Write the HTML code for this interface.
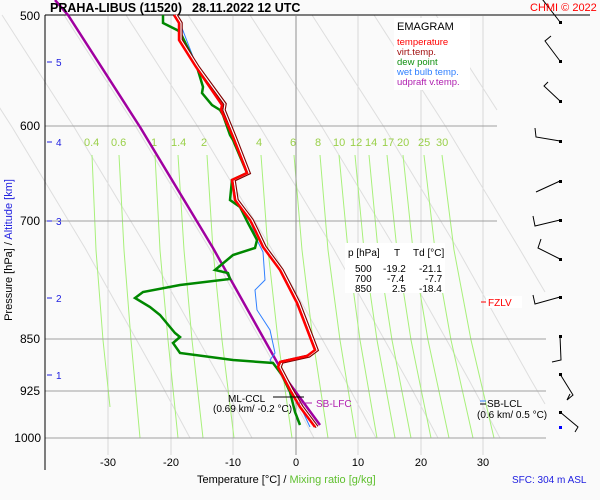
<!DOCTYPE html>
<html><head><meta charset="utf-8"><style>
html,body{margin:0;padding:0;background:#fafafa;}
svg{display:block;font-family:"Liberation Sans",sans-serif;}
</style></head><body>
<svg width="600" height="500" viewBox="0 0 600 500" xmlns="http://www.w3.org/2000/svg">
<rect width="600" height="500" fill="#fafafa"/>
<g stroke="#d8d8d8" stroke-width="1">
<line x1="108" y1="16" x2="108" y2="455"/>
<line x1="171" y1="16" x2="171" y2="455"/>
<line x1="233" y1="16" x2="233" y2="455"/>
<line x1="358" y1="16" x2="358" y2="455"/>
<line x1="421" y1="16" x2="421" y2="455"/>
<line x1="483" y1="16" x2="483" y2="455"/>
</g>
<g stroke="#dedede" stroke-width="1" fill="none">
<polyline points="-60,15 12,127 85,248 159,380 190,438"/>
<polyline points="2,15 74,127 147,248 221,380 252,438"/>
<polyline points="64,15 136,127 209,248 283,380 314,438"/>
<polyline points="126,15 198,127 271,248 345,380 376,438"/>
<polyline points="188,15 260,127 333,248 407,380 438,438"/>
<polyline points="250,15 322,127 395,248 469,380 500,438"/>
<polyline points="312,15 384,127 457,248 531,380 545,404"/>
<polyline points="374,15 446,127 519,248 545,292"/>
<polyline points="436,15 497,110"/>
</g>
<g stroke="#a8f07a" stroke-width="1" fill="none">
<polyline points="92,155 96,250 103,340 110,407"/>
<polyline points="119,155 124,250 131,340 140,438"/>
<polyline points="155,155 160,250 168,340 178,438"/>
<polyline points="178,155 184,250 192,340 203,438"/>
<polyline points="207,155 213,250 222,340 234,438"/>
<polyline points="261,155 268,250 278,340 292,438"/>
<polyline points="294,155 302,250 313,340 328,438"/>
<polyline points="320,155 328,250 340,340 356,438"/>
<polyline points="339,155 348,250 360,340 377,438"/>
<polyline points="355,155 364,250 377,340 395,438"/>
<polyline points="369,155 378,250 392,340 411,438"/>
<polyline points="387,155 397,250 411,340 431,438"/>
<polyline points="403,155 413,250 428,340 449,438"/>
<polyline points="424,155 435,250 451,340 473,438"/>
<polyline points="442,155 454,250 471,340 494,438"/>
</g>
<g fill="#9ad04a" font-size="11">
<text x="84" y="146">0.4</text><text x="111" y="146">0.6</text><text x="151" y="146">1</text>
<text x="171" y="146">1.4</text><text x="201" y="146">2</text><text x="256" y="146">4</text>
<text x="290" y="146">6</text><text x="315" y="146">8</text><text x="333" y="146">10</text>
<text x="350" y="146">12</text><text x="365" y="146">14</text><text x="382" y="146">17</text>
<text x="397" y="146">20</text><text x="418" y="146">25</text><text x="436" y="146">30</text>
</g>
<g stroke="#a0a0a0" stroke-width="1">
<line x1="45" y1="126" x2="497" y2="126"/>
<line x1="45" y1="221" x2="497" y2="221"/>
<line x1="45" y1="339" x2="546" y2="339"/>
<line x1="45" y1="391" x2="546" y2="391"/>
<line x1="45" y1="438" x2="546" y2="438"/>
<line x1="296" y1="16" x2="296" y2="455" stroke="#909090"/>
</g>
<line x1="45" y1="15" x2="590" y2="15" stroke="#000"/>
<line x1="45" y1="15" x2="45" y2="470" stroke="#000"/>
<rect x="394" y="18" width="76" height="72" fill="#fff"/>
<text x="397" y="30" font-size="11">EMAGRAM</text>
<g font-size="9.5">
<text x="397" y="45" fill="#ff0000">temperature</text>
<text x="397" y="55" fill="#a01010">virt.temp.</text>
<text x="397" y="65" fill="#109010">dew point</text>
<text x="397" y="75" fill="#3080ff">wet bulb temp.</text>
<text x="397" y="85" fill="#b020b0">udpraft v.temp.</text>
</g>
<rect x="345" y="243" width="100" height="50" fill="#fff"/>
<g font-size="10">
<text x="348" y="256">p [hPa]</text><text x="394" y="256">T</text><text x="413" y="256">Td [°C]</text>
<text x="355" y="272">500</text><text x="383" y="272">-19.2</text><text x="419" y="272">-21.1</text>
<text x="355" y="282">700</text><text x="387" y="282">-7.4</text><text x="425" y="282">-7.7</text>
<text x="355" y="292">850</text><text x="392" y="292">2.5</text><text x="419" y="292">-18.4</text>
</g>
<polyline fill="none" stroke="#a000a0" stroke-width="2.5" points="55,0 68,15 140,127 213,248 287,380 320,425"/>
<polyline fill="none" stroke="#3080ff" stroke-width="1" points="176,15 180,23 197,67 223,105 233,137 247,173 233,180 235,200 250,220 257,240 263,252 265,280 255,290 257,310 270,330 275,353 270,360 280,373 292,395 302,410 310,427"/>
<polyline fill="none" stroke="#008800" stroke-width="2.5" points="163,15 163,23 177,30 180,32 197,67 203,87 202,93 212,105 220,110 223,115 230,135 233,140 247,173 232,180 230,200 240,207 248,223 257,240 255,248 233,255 215,270 228,273 230,279 180,285 143,292 135,298 150,307 160,315 175,333 180,337 173,343 180,353 233,360 273,363 282,375 290,392 292,400 295,412 300,425"/>
<polyline fill="none" stroke="#800000" stroke-width="3.5" points="176,15 181,23 181,40 198,67 225,104 224,110 235,137 249,173 234,180 237,200 252,220 257,230 265,247 282,270 299,303 312,337 317,350 309,356 282,362 280,367 292,390 302,407 317,427"/>
<polyline fill="none" stroke="#fff" stroke-width="1.2" points="176,15 181,23 181,40 198,67 225,104 224,110 235,137 249,173 234,180 237,200 252,220 257,230 265,247 282,270 299,303 312,337 317,350 309,356 282,362 280,367 292,390 302,407 317,427"/>
<polyline fill="none" stroke="#ff0000" stroke-width="2.5" points="174,15 179,23 179,40 196,67 222,105 221,110 233,137 247,173 232,180 235,200 250,220 255,230 263,247 280,270 297,303 310,337 315,350 307,356 280,362 278,367 290,390 300,407 315,427"/>
<line x1="273" y1="397" x2="304" y2="397" stroke="#000"/>
<text x="228" y="402" font-size="10">ML-CCL</text>
<text x="213" y="412" font-size="10">(0.69 km/ -0.2 °C)</text>
<line x1="298" y1="403" x2="312" y2="403" stroke="#b020b0"/>
<text x="316" y="407" font-size="10" fill="#b020b0">SB-LFC</text>
<line x1="480" y1="401" x2="486" y2="401" stroke="#3080ff"/>
<line x1="480" y1="404" x2="486" y2="404" stroke="#000"/>
<text x="487" y="407" font-size="10">SB-LCL</text>
<text x="477" y="418" font-size="10">(0.6 km/ 0.5 °C)</text>
<rect x="486" y="296" width="36" height="12" fill="#fff"/>
<line x1="481" y1="302" x2="486" y2="302" stroke="#ff0000"/>
<text x="488" y="306" font-size="10" fill="#ff0000">FZLV</text>
<g stroke="#000" stroke-width="1" fill="none">
<polyline points="539,-5 560,22"/>
<polyline points="551,36 545,41 560,61"/>
<polyline points="548,82 544,86 560,101"/>
<polyline points="535,128 536,137 560,141"/>
<polyline points="536,192 560,181"/>
<polyline points="533,216 535,226 560,220"/>
<polyline points="541,239 538,248 560,259"/>
<polyline points="533,295 535,304 560,297"/>
<polyline points="560,336 561,360 552,362"/>
<polyline points="560,374 573,395 567,400 570,394"/>
<polyline points="560,412 578,427 575,432"/>
</g>
<g fill="#000">
<rect x="559" y="21" width="3" height="3"/><rect x="559" y="60" width="3" height="3"/>
<rect x="559" y="100" width="3" height="3"/><rect x="559" y="140" width="3" height="3"/>
<rect x="559" y="180" width="3" height="3"/><rect x="559" y="219" width="3" height="3"/>
<rect x="559" y="258" width="3" height="3"/><rect x="559" y="296" width="3" height="3"/>
<rect x="559" y="335" width="3" height="3"/><rect x="559" y="373" width="3" height="3"/>
<rect x="559" y="411" width="3" height="3"/>
</g>
<rect x="559" y="426" width="3" height="3" fill="#0000ff"/>
<text x="50" y="12" font-size="12.5" font-weight="bold">PRAHA-LIBUS (11520)</text>
<text x="192" y="12" font-size="12.5" font-weight="bold">28.11.2022 12 UTC</text>
<text x="530" y="11" font-size="11" fill="#ff0000">CHMI © 2022</text>
<g font-size="12" text-anchor="end">
<text x="40" y="20">500</text><text x="40" y="130">600</text><text x="40" y="225">700</text>
<text x="40" y="343">850</text><text x="40" y="395">925</text><text x="41" y="442">1000</text>
</g>
<g fill="#2020e0" font-size="10">
<line x1="47" y1="62" x2="52" y2="62" stroke="#2020e0"/><text x="56" y="66">5</text>
<line x1="47" y1="142" x2="52" y2="142" stroke="#2020e0"/><text x="56" y="146">4</text>
<line x1="47" y1="221" x2="52" y2="221" stroke="#2020e0"/><text x="56" y="225">3</text>
<line x1="47" y1="298" x2="52" y2="298" stroke="#2020e0"/><text x="56" y="302">2</text>
<line x1="47" y1="375" x2="52" y2="375" stroke="#2020e0"/><text x="56" y="379">1</text>
</g>
<text transform="translate(12,250) rotate(-90)" font-size="11" text-anchor="middle"><tspan>Pressure [hPa]  /  </tspan><tspan fill="#2020e0">Altitude [km]</tspan></text>
<g font-size="11" text-anchor="middle">
<text x="108" y="466">-30</text><text x="171" y="466">-20</text><text x="233" y="466">-10</text>
<text x="296" y="466">0</text><text x="358" y="466">10</text><text x="421" y="466">20</text><text x="483" y="466">30</text>
</g>
<text x="197" y="483" font-size="11">Temperature [°C]  /  <tspan fill="#60c030">Mixing ratio [g/kg]</tspan></text>
<text x="512" y="483" font-size="10" fill="#2020e0">SFC: 304 m ASL</text>
</svg>
</body></html>
